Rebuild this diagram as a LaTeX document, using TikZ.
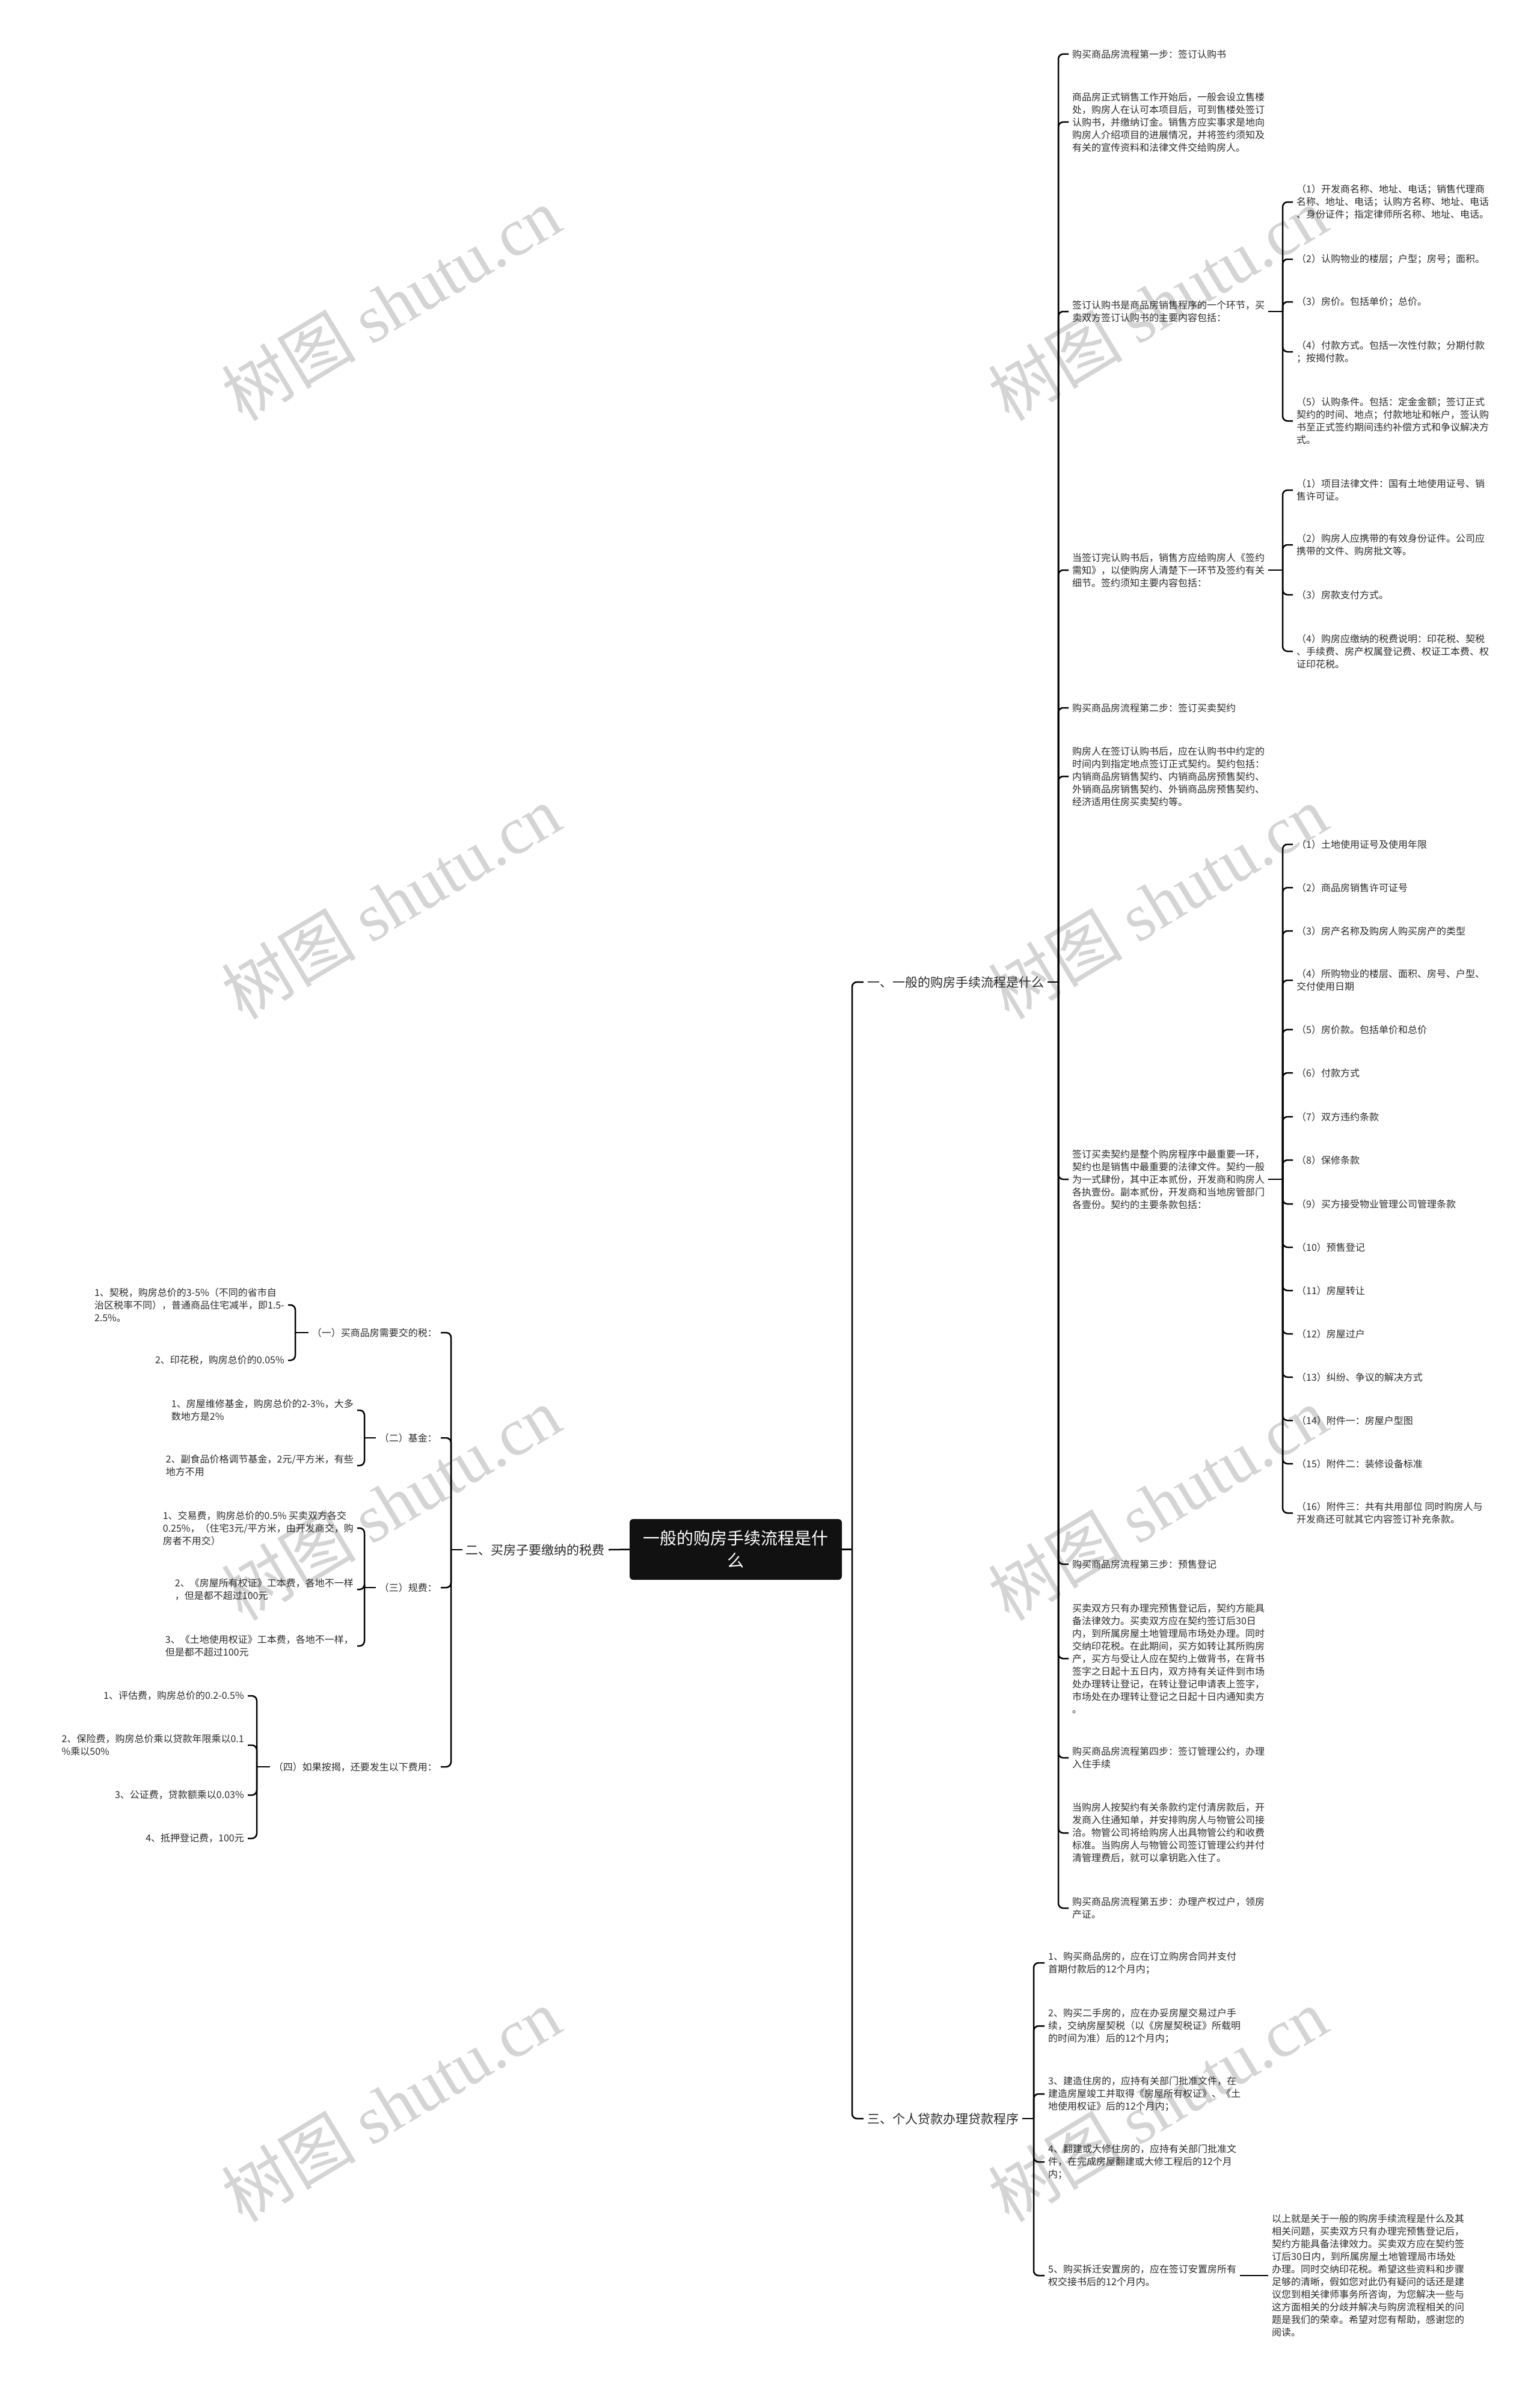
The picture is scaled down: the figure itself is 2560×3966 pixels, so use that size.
\documentclass[tikz,border=0pt]{standalone}
\usepackage{fontspec}
\setmainfont{Noto Sans CJK SC}
\newfontfamily\wmlatin{Liberation Serif}
\usetikzlibrary{calc}
\definecolor{textc}{HTML}{2B2B2B}
\definecolor{rootc}{HTML}{111111}
\begin{document}
\begin{tikzpicture}[x=1pt,y=-1pt,
  txt/.style={inner xsep=6pt, inner ysep=2pt, align=left, text=textc, font=\fontsize{16}{21}\selectfont},
  rtxt/.style={txt, anchor=west},
  ltxt/.style={txt, anchor=east},
  btxt/.style={inner xsep=6pt, inner ysep=2pt, text=textc, font=\fontsize{21}{26}\selectfont},
  rootbox/.style={fill=rootc, rounded corners=6pt, text=white, align=center, minimum width=353pt, minimum height=101pt, inner sep=0pt, font=\fontsize{28}{37}\selectfont},
  conn/.style={draw=black, line width=2.5pt, rounded corners=8pt},
  wm/.style={rotate=31, text=black!17, font=\fontsize{112}{112}\selectfont, inner sep=0pt},
]
\fill[white] (0,0) rectangle (2560,3966);
\useasboundingbox (0,0) rectangle (2560,3966);

% watermarks
\foreach \yy [count=\i] in {505,1500,2500,3500} {
  \node[wm] (wmL\i) at (650,\yy) {树图 {\wmlatin shutu.cn}};
  \node[wm] (wmR\i) at (1925,\yy) {树图 {\wmlatin shutu.cn}};
}

% vertical line positions
\coordinate (vR) at (1417,0);
\coordinate (vA) at (1760,0);
\coordinate (vS) at (2133,0);
\coordinate (vB) at (1719,0);
\coordinate (vL) at (750,0);
\coordinate (vL1) at (491,0);
\coordinate (vL2) at (606,0);
\coordinate (vL4) at (427,0);

% root
\node[rootbox] (root) at (1223.5,2576.5) {一般的购房手续流程是什\\么};

% branches
\node[btxt, anchor=west] (b1) at (1436,1633) {一、一般的购房手续流程是什么};
\node[btxt, anchor=west] (b3) at (1436,3523) {三、个人贷款办理贷款程序};
\node[btxt, anchor=east] (b2) at (1012,2577) {二、买房子要缴纳的税费};

% branch 1 children
\node[rtxt] (A1) at (1777,90) {购买商品房流程第一步：签订认购书};
\node[rtxt] (A2) at (1777,203) {商品房正式销售工作开始后，一般会设立售楼\\处，购房人在认可本项目后，可到售楼处签订\\认购书，并缴纳订金。销售方应实事求是地向\\购房人介绍项目的进展情况，并将签约须知及\\有关的宣传资料和法律文件交给购房人。};
\node[rtxt] (A3) at (1777,518) {签订认购书是商品房销售程序的一个环节，买\\卖双方签订认购书的主要内容包括：};
\node[rtxt] (A4) at (1777,948) {当签订完认购书后，销售方应给购房人《签约\\需知》，以使购房人清楚下一环节及签约有关\\细节。签约须知主要内容包括：};
\node[rtxt] (A5) at (1777,1177) {购买商品房流程第二步：签订买卖契约};
\node[rtxt] (A6) at (1777,1291) {购房人在签订认购书后，应在认购书中约定的\\时间内到指定地点签订正式契约。契约包括：\\内销商品房销售契约、内销商品房预售契约、\\外销商品房销售契约、外销商品房预售契约、\\经济适用住房买卖契约等。};
\node[rtxt] (A7) at (1777,1961) {签订买卖契约是整个购房程序中最重要一环，\\契约也是销售中最重要的法律文件。契约一般\\为一式肆份，其中正本贰份，开发商和购房人\\各执壹份。副本贰份，开发商和当地房管部门\\各壹份。契约的主要条款包括：};
\node[rtxt] (A8) at (1777,2601) {购买商品房流程第三步：预售登记};
\node[rtxt] (A9) at (1777,2758) {买卖双方只有办理完预售登记后，契约方能具\\备法律效力。买卖双方应在契约签订后30日\\内，到所属房屋土地管理局市场处办理。同时\\交纳印花税。在此期间，买方如转让其所购房\\产，买方与受让人应在契约上做背书，在背书\\签字之日起十五日内，双方持有关证件到市场\\处办理转让登记，在转让登记申请表上签字，\\市场处在办理转让登记之日起十日内通知卖方\\。};
\node[rtxt] (A10) at (1777,2923) {购买商品房流程第四步：签订管理公约，办理\\入住手续};
\node[rtxt] (A11) at (1777,3048) {当购房人按契约有关条款约定付清房款后，开\\发商入住通知单，并安排购房人与物管公司接\\洽。物管公司将给购房人出具物管公约和收费\\标准。当购房人与物管公司签订管理公约并付\\清管理费后，就可以拿钥匙入住了。};
\node[rtxt] (A12) at (1777,3173) {购买商品房流程第五步：办理产权过户，领房\\产证。};

% A3 children
\node[rtxt] (a1) at (2150,336) {（1）开发商名称、地址、电话；销售代理商\\名称、地址、电话；认购方名称、地址、电话\\、身份证件；指定律师所名称、地址、电话。};
\node[rtxt] (a2) at (2150,431) {（2）认购物业的楼层；户型；房号；面积。};
\node[rtxt] (a3) at (2150,502) {（3）房价。包括单价；总价。};
\node[rtxt] (a4) at (2150,585) {（4）付款方式。包括一次性付款；分期付款\\；按揭付款。};
\node[rtxt] (a5) at (2150,700) {（5）认购条件。包括：定金金额；签订正式\\契约的时间、地点；付款地址和帐户，签认购\\书至正式签约期间违约补偿方式和争议解决方\\式。};

% A4 children
\node[rtxt] (s1) at (2150,815) {（1）项目法律文件：国有土地使用证号、销\\售许可证。};
\node[rtxt] (s2) at (2150,906) {（2）购房人应携带的有效身份证件。公司应\\携带的文件、购房批文等。};
\node[rtxt] (s3) at (2150,989) {（3）房款支付方式。};
\node[rtxt] (s4) at (2150,1083) {（4）购房应缴纳的税费说明：印花税、契税\\、手续费、房产权属登记费、权证工本费、权\\证印花税。};

% A7 children
\node[rtxt] (c1) at (2150,1404) {（1）土地使用证号及使用年限};
\node[rtxt] (c2) at (2150,1476) {（2）商品房销售许可证号};
\node[rtxt] (c3) at (2150,1548) {（3）房产名称及购房人购买房产的类型};
\node[rtxt] (c4) at (2150,1630) {（4）所购物业的楼层、面积、房号、户型、\\交付使用日期};
\node[rtxt] (c5) at (2150,1712) {（5）房价款。包括单价和总价};
\node[rtxt] (c6) at (2150,1784) {（6）付款方式};
\node[rtxt] (c7) at (2150,1857) {（7）双方违约条款};
\node[rtxt] (c8) at (2150,1929) {（8）保修条款};
\node[rtxt] (c9) at (2150,2002) {（9）买方接受物业管理公司管理条款};
\node[rtxt] (c10) at (2150,2074) {（10）预售登记};
\node[rtxt] (c11) at (2150,2146) {（11）房屋转让};
\node[rtxt] (c12) at (2150,2218) {（12）房屋过户};
\node[rtxt] (c13) at (2150,2290) {（13）纠纷、争议的解决方式};
\node[rtxt] (c14) at (2150,2362) {（14）附件一：房屋户型图};
\node[rtxt] (c15) at (2150,2434) {（15）附件二：装修设备标准};
\node[rtxt] (c16) at (2150,2516) {（16）附件三：共有共用部位 同时购房人与\\开发商还可就其它内容签订补充条款。};

% branch 3 children
\node[rtxt] (B1) at (1737,3264) {1、购买商品房的，应在订立购房合同并支付\\首期付款后的12个月内；};
\node[rtxt] (B2) at (1737,3369) {2、购买二手房的，应在办妥房屋交易过户手\\续，交纳房屋契税（以《房屋契税证》所载明\\的时间为准）后的12个月内；};
\node[rtxt] (B3) at (1737,3482) {3、建造住房的，应持有关部门批准文件，在\\建造房屋竣工并取得《房屋所有权证》、《土\\地使用权证》后的12个月内；};
\node[rtxt] (B4) at (1737,3595) {4、翻建或大修住房的，应持有关部门批准文\\件，在完成房屋翻建或大修工程后的12个月\\内；};
\node[rtxt] (B5) at (1737,3784) {5、购买拆迁安置房的，应在签订安置房所有\\权交接书后的12个月内。};
\node[rtxt] (C1) at (2109,3784) {以上就是关于一般的购房手续流程是什么及其\\相关问题，买卖双方只有办理完预售登记后，\\契约方能具备法律效力。买卖双方应在契约签\\订后30日内，到所属房屋土地管理局市场处\\办理。同时交纳印花税。希望这些资料和步骤\\足够的清晰，假如您对此仍有疑问的话还是建\\议您到相关律师事务所咨询，为您解决一些与\\这方面相关的分歧并解决与购房流程相关的问\\题是我们的荣幸。希望对您有帮助，感谢您的\\阅读。};

% branch 2 children
\node[ltxt] (L1) at (733,2216) {（一）买商品房需要交的税：};
\node[ltxt] (L2) at (733,2391) {（二）基金：};
\node[ltxt] (L3) at (733,2640) {（三）规费：};
\node[ltxt] (L4) at (733,2938) {（四）如果按揭，还要发生以下费用：};

\node[ltxt] (l11) at (479,2170) {1、契税，购房总价的3-5\%（不同的省市自\\治区税率不同），普通商品住宅减半，即1.5-\\2.5\%。};
\node[ltxt] (l12) at (479,2262) {2、印花税，购房总价的0.05\%};
\node[ltxt] (l21) at (594,2345) {1、房屋维修基金，购房总价的2-3\%，大多\\数地方是2\%};
\node[ltxt] (l22) at (594,2437) {2、副食品价格调节基金，2元/平方米，有些\\地方不用};
\node[ltxt] (l31) at (594,2541) {1、交易费，购房总价的0.5\% 买卖双方各交\\0.25\%，（住宅3元/平方米，由开发商交，购\\房者不用交）};
\node[ltxt] (l32) at (594,2643) {2、《房屋所有权证》工本费，各地不一样\\，但是都不超过100元};
\node[ltxt] (l33) at (594,2737) {3、《土地使用权证》工本费，各地不一样，\\但是都不超过100元};
\node[ltxt] (l41) at (412,2820) {1、评估费，购房总价的0.2-0.5\%};
\node[ltxt] (l42) at (412,2902) {2、保险费，购房总价乘以贷款年限乘以0.1\\\%乘以50\%};
\node[ltxt] (l43) at (412,2985) {3、公证费，贷款额乘以0.03\%};
\node[ltxt] (l44) at (412,3057) {4、抵押登记费，100元};

% ---------- connectors ----------
% root to branches
\draw[conn] (root.east) -- (root.east -| vR);
\draw[conn] (root.east -| vR) |- (b1.west);
\draw[conn] (root.east -| vR) |- (b3.west);
\draw[conn] (root.west) -- (b2.east);

% branch 1
\draw[conn] (b1.east) -- (b1.east -| vA);
\foreach \n in {A1,A2,A3,A4,A5,A6,A7,A8,A9,A10,A11,A12}
  \draw[conn] (b1.east -| vA) |- (\n.west);

\draw[conn] (A3.east) -- (A3.east -| vS);
\foreach \n in {a1,a2,a3,a4,a5}
  \draw[conn] (A3.east -| vS) |- (\n.west);

\draw[conn] (A4.east) -- (A4.east -| vS);
\foreach \n in {s1,s2,s3,s4}
  \draw[conn] (A4.east -| vS) |- (\n.west);

\draw[conn] (A7.east) -- (A7.east -| vS);
\foreach \n in {c1,c2,c3,c4,c5,c6,c7,c8,c9,c10,c11,c12,c13,c14,c15,c16}
  \draw[conn] (A7.east -| vS) |- (\n.west);

% branch 3
\draw[conn] (b3.east) -- (b3.east -| vB);
\foreach \n in {B1,B2,B3,B4,B5}
  \draw[conn] (b3.east -| vB) |- (\n.west);
\draw[conn] (B5.east) -- (C1.west);

% branch 2
\draw[conn] (b2.west) -- (b2.west -| vL);
\foreach \n in {L1,L2,L3,L4}
  \draw[conn] (b2.west -| vL) |- (\n.east);

\draw[conn] (L1.west) -- (L1.west -| vL1);
\foreach \n in {l11,l12}
  \draw[conn] (L1.west -| vL1) |- (\n.east);

\draw[conn] (L2.west) -- (L2.west -| vL2);
\foreach \n in {l21,l22}
  \draw[conn] (L2.west -| vL2) |- (\n.east);

\draw[conn] (L3.west) -- (L3.west -| vL2);
\foreach \n in {l31,l32,l33}
  \draw[conn] (L3.west -| vL2) |- (\n.east);

\draw[conn] (L4.west) -- (L4.west -| vL4);
\foreach \n in {l41,l42,l43,l44}
  \draw[conn] (L4.west -| vL4) |- (\n.east);
\end{tikzpicture}
\end{document}
